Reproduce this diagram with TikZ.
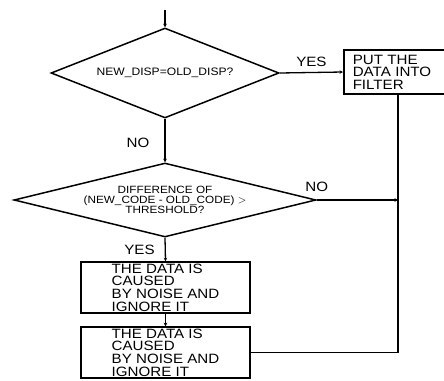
\documentclass[tikz,border=0pt]{standalone}
\usepackage{fontspec}
\setmainfont{Liberation Sans}
\newfontfamily\wfont[FakeStretch=1.12]{Liberation Sans}
\usetikzlibrary{shapes.geometric,arrows.meta}
\begin{document}
\begin{tikzpicture}[x=1pt,y=-1pt,
  shapeline/.style={draw=black,line width=1.5pt},
  decision/.style={shapeline,diamond,inner sep=0pt,align=center},
  procbox/.style={shapeline,rectangle,inner sep=0pt,align=left,
    font=\wfont\fontsize{13.5}{12.7}\selectfont},
  conn/.style={draw=black,line width=1.3pt},
  arr/.style={conn,-{Stealth[length=3.5pt,width=3.5pt]}},
  lbl/.style={font=\wfont\fontsize{13.5}{14}\selectfont,inner sep=0pt}]
\useasboundingbox (0,0) rectangle (444,380);
\fill[white] (0,0) rectangle (444,380);
\clip (0,0) rectangle (444,380);

\coordinate (start) at (165,10);
\node[decision,minimum width=228pt,minimum height=90pt,aspect=2.5,
  font=\wfont\fontsize{10.8}{11}\selectfont] (d1) at (165,73) {NEW\_DISP=OLD\_DISP?};
\node[procbox,anchor=west,text width=100pt,inner xsep=9pt,minimum height=44pt,
  font=\wfont\fontsize{13.5}{12.5}\selectfont] (b1) at (343,72) {PUT THE\\DATA INTO\\FILTER};
\node[decision,minimum width=302pt,minimum height=74pt,aspect=4,
  font=\wfont\fontsize{10.5}{9.8}\selectfont] (d2) at (165,200)
  {DIFFERENCE OF\\(NEW\_CODE - OLD\_CODE) $>$\\THRESHOLD?};
\node[procbox,minimum width=169pt,minimum height=51pt] (b2) at (165.5,287.5)
  {THE DATA IS\\CAUSED\\BY NOISE AND\\IGNORE IT};
\node[procbox,minimum width=169pt,minimum height=51pt] (b3) at (165.5,352.5)
  {THE DATA IS\\CAUSED\\BY NOISE AND\\IGNORE IT};
\coordinate (j) at (398,200);

\draw[arr] (start) -- (d1.north);
\draw[arr] (d1.east) -- (b1.west) node[lbl,midway,above=5pt] {YES};
\draw[arr] (d1.south) -- (d2.north) node[lbl,pos=0.55,left=15pt] {NO};
\draw[arr] (d2.east) -- (j) node[lbl,pos=0,above=8pt] {NO};
\draw[arr] (d2.south) -- (b2.north) node[lbl,midway,left=10pt] {YES};
\draw[arr] (b2.south) -- (b3.north);
\draw[conn] (b3.east) -| (j |- b1.south);
\end{tikzpicture}
\end{document}
